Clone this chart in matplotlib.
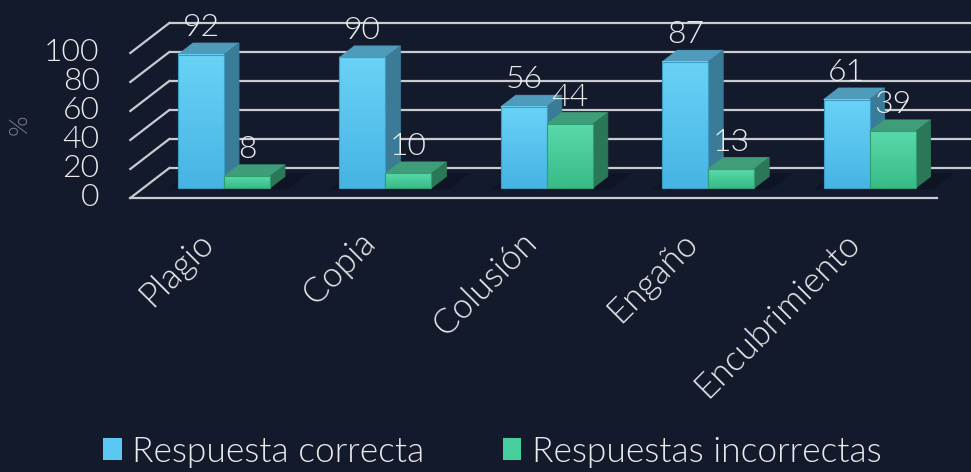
import matplotlib
matplotlib.use("Agg")
import matplotlib.pyplot as plt
import numpy as np
from matplotlib.patches import Polygon, Patch
from matplotlib.colors import LinearSegmentedColormap

categories = ["Plagio", "Copia", "Colusión", "Engaño", "Encubrimiento"]
correct = [92, 90, 56, 87, 61]
incorrect = [8, 10, 44, 13, 39]
series_names = ["Respuesta correcta", "Respuestas incorrectas"]
yticks = [0, 20, 40, 60, 80, 100]

FONT = "Lato"
plt.rcParams['font.family'] = [FONT, 'DejaVu Sans']
plt.rcParams['font.weight'] = 300

W, H, DPI = 971, 472, 100
bg = "#131a2c"
fig = plt.figure(figsize=(W / DPI, H / DPI), dpi=DPI)
fig.patch.set_facecolor(bg)
ax = fig.add_axes([0, 0, 1, 1])
ax.set_facecolor(bg)
ax.axis('off')

PX_X, PX_Y = 161.4, 1.45
x0px, y0px = 224, 188
XLIM = (-x0px / PX_X, (W - x0px) / PX_X)
YLIM = (-(H - y0px) / PX_Y, y0px / PX_Y)

DX, DY, D0 = 39 / PX_X, 30 / PX_Y, 1 / 3
BD = 0.385
D1 = D0 + BD


def P(x, v, d):
    return (x + (d - D0) * DX, v + (d - D0) * DY)


grid_c = "#c9cbd0"
TXT = '#ebebeb'
for v in yticks:
    a, b = P(-0.5, v, 1), P(4.5, v, 1)
    ax.plot([a[0], b[0]], [a[1], b[1]], color=grid_c, lw=1.6, zorder=1, solid_capstyle='butt')
    c = P(-0.5, v, 0)
    ax.plot([c[0], a[0]], [c[1], a[1]], color=grid_c, lw=1.6, zorder=1)
    ax.annotate(str(v), xy=c, xytext=(-22, 0), textcoords='offset points',
                ha='right', va='center', color=TXT, fontsize=23, zorder=5)
a, b = P(-0.5, 0, 0), P(4.5, 0, 0)
ax.plot([a[0], b[0]], [a[1], b[1]], color=grid_c, lw=1.6, zorder=1)

styles = [
    dict(top_front="#6ad2f6", bot_front="#46b4e4", top="#4f9bbb", side="#3a7b97", edge="#3b9cc6"),
    dict(top_front="#5ad9aa", bot_front="#37bc87", top="#3f9d79", side="#2a7858", edge="#2f9e72"),
]
W_BAR = 0.285


def draw_bar(x1, x2, v, st, z):
    sh = Polygon([P(x1 - 0.05, 0, D0 - 0.05), P(x2 + 0.12, 0, D0 - 0.05),
                  P(x2 + 0.12, 0, D1 + 0.1), P(x1 - 0.05, 0, D1 + 0.1)],
                 closed=True, facecolor="#0a0f1c", edgecolor='none', alpha=0.5, zorder=z - 0.5)
    ax.add_patch(sh)
    top = Polygon([P(x1, v, D0), P(x2, v, D0), P(x2, v, D1), P(x1, v, D1)],
                  closed=True, facecolor=st['top'], edgecolor=st['top'], lw=0.6, zorder=z)
    side = Polygon([P(x2, 0, D0), P(x2, 0, D1), P(x2, v, D1), P(x2, v, D0)],
                   closed=True, facecolor=st['side'], edgecolor=st['side'], lw=0.6, zorder=z)
    ax.add_patch(top)
    ax.add_patch(side)
    cmap = LinearSegmentedColormap.from_list("g", [st['bot_front'], st['top_front']])
    grad = np.linspace(0, 1, 64).reshape(-1, 1)
    ax.imshow(grad, extent=[x1, x2, 0, v], origin='lower', cmap=cmap, aspect='auto',
              interpolation='bicubic', zorder=z + 0.1)
    front = Polygon([(x1, 0), (x2, 0), (x2, v), (x1, v)], closed=True, facecolor='none',
                    edgecolor=st['edge'], lw=0.8, zorder=z + 0.2)
    ax.add_patch(front)
    ax.annotate(str(v), xy=((x1 + x2) / 2, v + BD * DY), xytext=(0, 5), textcoords='offset points',
                ha='center', va='baseline', color=TXT, fontsize=23, zorder=10)


for i, (c, ic) in enumerate(zip(correct, incorrect)):
    draw_bar(i - W_BAR, i, c, styles[0], 3 + i)
    draw_bar(i, i + W_BAR, ic, styles[1], 3.5 + i)

for i, cat in enumerate(categories):
    ax.text(i - 0.165, (y0px - 226) / PX_Y, cat, rotation=45, rotation_mode='anchor',
            ha='right', va='top', color=TXT, fontsize=25, zorder=5)

ax.text((20 - x0px) / PX_X, (y0px - 125) / PX_Y, "%", rotation=90, ha='center', va='center',
        color='#7c7f86', fontsize=19)

ax.set_xlim(*XLIM)
ax.set_ylim(*YLIM)

handles = [Patch(facecolor="#5ac8f2", edgecolor='none'), Patch(facecolor="#46cf9c", edgecolor='none')]
fig.legend(handles, series_names, loc='lower center', bbox_to_anchor=(0.507, -0.058), ncol=2,
           frameon=False, fontsize=25.5, labelcolor=TXT, handlelength=0.52, handleheight=0.55,
           handletextpad=0.3, columnspacing=2.2)

fig.savefig("out.png", dpi=DPI, facecolor=bg)
